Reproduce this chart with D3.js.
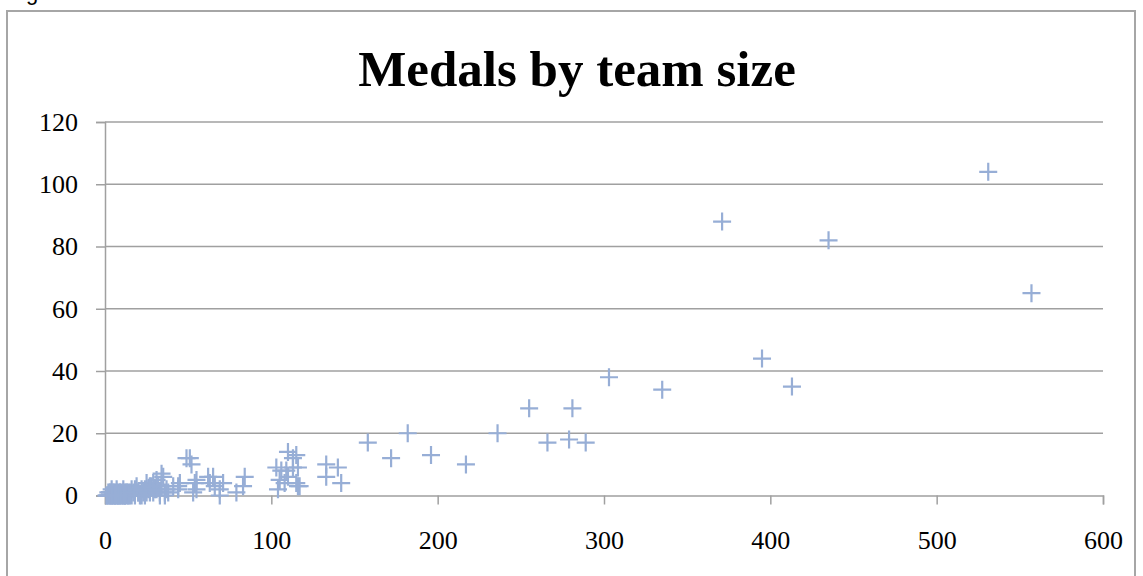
<!DOCTYPE html>
<html>
<head>
<meta charset="utf-8">
<script src="https://cdn.jsdelivr.net/npm/d3@7"></script>
<style>
  html, body { margin: 0; padding: 0; background: #fff; }
  svg { display: block; }
</style>
</head>
<body>
<svg id="chart" width="1143" height="576"></svg>
<script>
// Team size (athletes) per nation
const teamSize = [
  531, 557, 371, 435, 395, 413, 335, 303, 255, 281, 279, 289, 266, 236, 217, 196, 182, 172, 158,
  142, 140, 133, 133, 117, 116, 115, 116, 115, 113, 110, 109, 106, 103, 105, 110, 104, 113, 108,
  84, 83, 79, 71, 69, 69, 66, 65, 63, 62, 55, 55, 54, 53, 52, 49, 51, 45, 44, 44, 41, 38, 36,
  35, 34, 33, 32, 31, 30, 29, 28, 27, 26, 25, 24, 23, 22, 21, 20, 19, 18, 17, 16, 15, 14,
  37, 36, 34, 33, 31, 29, 27, 25, 24, 22, 20, 18, 16, 15, 14, 13, 12,
  1, 2, 2, 3, 3, 4, 4, 5, 5, 6, 6, 7, 7, 8, 8, 9, 9, 10, 10, 11, 11, 12, 12, 13, 13, 14,
  1, 2, 3, 4, 5, 6, 7, 8, 9, 10, 11, 12, 3, 5, 7, 9, 11, 4, 6, 8
];
// Medals won per nation
const medals = [
  104, 65, 88, 82, 44, 35, 34, 38, 28, 28, 18, 17, 17, 20, 10, 13, 20, 12, 17,
  4, 9, 10, 6, 3, 3, 13, 9, 4, 12, 14, 8, 8, 9, 5, 6, 2, 9, 4,
  6, 3, 1, 4, 2, 0, 3, 6, 4, 6, 2, 5, 4, 1, 10, 12, 12, 4, 3, 2, 3, 1, 0,
  6, 7, 1, 3, 5, 2, 4, 3, 1, 2, 4, 0, 1, 2, 0, 1, 3, 0, 1, 2, 0, 1,
  2, 1, 3, 0, 2, 1, 3, 1, 2, 0, 1, 2, 0, 1, 0, 1, 0,
  0, 0, 1, 0, 1, 0, 2, 0, 1, 0, 1, 0, 2, 0, 1, 0, 1, 0, 1, 0, 2, 0, 1, 0, 1, 0,
  0, 0, 0, 0, 0, 0, 0, 0, 0, 0, 0, 0, 1, 1, 1, 1, 1, 0, 0, 0
];
const xTicks = [0, 100, 200, 300, 400, 500, 600];
const yTicks = [0, 20, 40, 60, 80, 100, 120];
const chartTitle = "Medals by team size";

const points = teamSize.map((t, i) => ({ t, m: medals[i] }));

const svg = d3.select("#chart");
const plot = { left: 105, right: 1103, top: 122, bottom: 495.5 };
const gridColor = "#a0a0a0";
const markColor = "#97aed6";
const labelFont = "'Liberation Serif', 'Times New Roman', serif";

// Heading line above the chart frame, running off the top edge
svg.append("text")
  .attr("x", 26).attr("y", 0)
  .attr("font-family", "'Liberation Sans', Arial, sans-serif")
  .attr("font-size", 22)
  .attr("fill", "#000")
  .text("g");

// Chart frame
svg.append("rect")
  .attr("x", 7).attr("y", 11)
  .attr("width", 1128).attr("height", 580)
  .attr("fill", "#fff")
  .attr("stroke", "#a6a6a6")
  .attr("stroke-width", 2);

const x = d3.scaleLinear().domain([0, 600]).range([plot.left, plot.right]);
const y = d3.scaleLinear().domain([0, 120]).range([plot.bottom, plot.top]);

// Horizontal gridlines
svg.append("g")
  .selectAll("line")
  .data(yTicks.filter(v => v > 0))
  .join("line")
  .attr("x1", plot.left).attr("x2", plot.right)
  .attr("y1", d => y(d)).attr("y2", d => y(d))
  .attr("stroke", gridColor).attr("stroke-width", 1.5);

// Y axis
const yAxis = svg.append("g")
  .attr("transform", `translate(${plot.left},0)`)
  .call(d3.axisLeft(y).tickValues(yTicks).tickSize(9).tickPadding(18).tickFormat(d3.format("d")));
yAxis.select(".domain").attr("stroke", gridColor).attr("stroke-width", 1.5);
yAxis.selectAll(".tick line").attr("stroke", gridColor).attr("stroke-width", 1.5);
yAxis.selectAll("text")
  .attr("font-family", labelFont).attr("font-size", 26).attr("fill", "#000");

// X axis
const xAxis = svg.append("g")
  .attr("transform", `translate(0,${plot.bottom})`)
  .call(d3.axisBottom(x).tickValues(xTicks).tickSize(9).tickPadding(26).tickFormat(d3.format("d")));
xAxis.select(".domain").attr("stroke", gridColor).attr("stroke-width", 1.5);
xAxis.selectAll(".tick line").attr("stroke", gridColor).attr("stroke-width", 1.5);
xAxis.selectAll("text")
  .attr("font-family", labelFont).attr("font-size", 26).attr("fill", "#000");

// Plus-sign markers
const r = 9;
svg.append("g")
  .selectAll("path")
  .data(points)
  .join("path")
  .attr("d", d => {
    const cx = x(d.t), cy = y(d.m);
    return `M${cx - r},${cy}H${cx + r}M${cx},${cy - r}V${cy + r}`;
  })
  .attr("fill", "none")
  .attr("stroke", markColor)
  .attr("stroke-width", 2.2);

// Title
svg.append("text")
  .attr("x", 577).attr("y", 86)
  .attr("text-anchor", "middle")
  .attr("font-family", labelFont)
  .attr("font-weight", "bold")
  .attr("font-size", 51)
  .attr("fill", "#000")
  .text(chartTitle);
</script>
</body>
</html>
